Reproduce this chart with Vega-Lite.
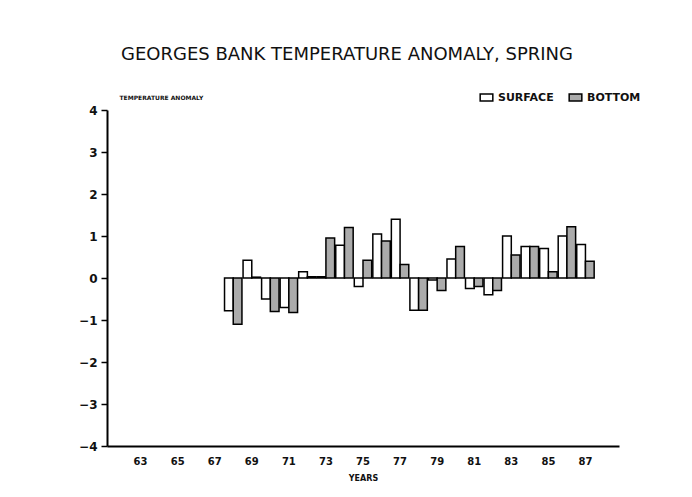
{
  "$schema": "https://vega.github.io/schema/vega-lite/v6.json",
  "width": 512,
  "height": 336,
  "autosize": {"type": "none"},
  "padding": {"left": 107, "top": 110, "right": 73, "bottom": 51},
  "background": "white",
  "title": {
    "text": "GEORGES BANK TEMPERATURE ANOMALY, SPRING",
    "font": "DejaVu Sans",
    "fontSize": 18,
    "fontWeight": "normal",
    "color": "#111111",
    "anchor": "middle",
    "frame": "group",
    "offset": 26,
    "dx": -16
  },
  "data": {
    "values": [
      {"year": 68, "series": "SURFACE", "anomaly": -0.78}, {"year": 68, "series": "BOTTOM", "anomaly": -1.1},
      {"year": 69, "series": "SURFACE", "anomaly": 0.42}, {"year": 69, "series": "BOTTOM", "anomaly": 0.02},
      {"year": 70, "series": "SURFACE", "anomaly": -0.5}, {"year": 70, "series": "BOTTOM", "anomaly": -0.8},
      {"year": 71, "series": "SURFACE", "anomaly": -0.7}, {"year": 71, "series": "BOTTOM", "anomaly": -0.82},
      {"year": 72, "series": "SURFACE", "anomaly": 0.15}, {"year": 72, "series": "BOTTOM", "anomaly": 0.03},
      {"year": 73, "series": "SURFACE", "anomaly": 0.03}, {"year": 73, "series": "BOTTOM", "anomaly": 0.95},
      {"year": 74, "series": "SURFACE", "anomaly": 0.78}, {"year": 74, "series": "BOTTOM", "anomaly": 1.2},
      {"year": 75, "series": "SURFACE", "anomaly": -0.2}, {"year": 75, "series": "BOTTOM", "anomaly": 0.42},
      {"year": 76, "series": "SURFACE", "anomaly": 1.05}, {"year": 76, "series": "BOTTOM", "anomaly": 0.88},
      {"year": 77, "series": "SURFACE", "anomaly": 1.4}, {"year": 77, "series": "BOTTOM", "anomaly": 0.32},
      {"year": 78, "series": "SURFACE", "anomaly": -0.77}, {"year": 78, "series": "BOTTOM", "anomaly": -0.77},
      {"year": 79, "series": "SURFACE", "anomaly": -0.05}, {"year": 79, "series": "BOTTOM", "anomaly": -0.3},
      {"year": 80, "series": "SURFACE", "anomaly": 0.45}, {"year": 80, "series": "BOTTOM", "anomaly": 0.75},
      {"year": 81, "series": "SURFACE", "anomaly": -0.25}, {"year": 81, "series": "BOTTOM", "anomaly": -0.2},
      {"year": 82, "series": "SURFACE", "anomaly": -0.4}, {"year": 82, "series": "BOTTOM", "anomaly": -0.3},
      {"year": 83, "series": "SURFACE", "anomaly": 1.0}, {"year": 83, "series": "BOTTOM", "anomaly": 0.55},
      {"year": 84, "series": "SURFACE", "anomaly": 0.75}, {"year": 84, "series": "BOTTOM", "anomaly": 0.75},
      {"year": 85, "series": "SURFACE", "anomaly": 0.7}, {"year": 85, "series": "BOTTOM", "anomaly": 0.15},
      {"year": 86, "series": "SURFACE", "anomaly": 1.0}, {"year": 86, "series": "BOTTOM", "anomaly": 1.22},
      {"year": 87, "series": "SURFACE", "anomaly": 0.8}, {"year": 87, "series": "BOTTOM", "anomaly": 0.4}
    ]
  },
  "mark": {"type": "bar", "stroke": "black", "strokeWidth": 1.5},
  "encoding": {
    "x": {
      "field": "year",
      "type": "ordinal",
      "scale": {
        "domain": [62, 63, 64, 65, 66, 67, 68, 69, 70, 71, 72, 73, 74, 75, 76, 77, 78, 79, 80, 81, 82, 83, 84, 85, 86, 87, 88],
        "paddingInner": 0.06,
        "paddingOuter": 0.34
      },
      "axis": {
        "values": [63, 65, 67, 69, 71, 73, 75, 77, 79, 81, 83, 85, 87],
        "labelAngle": 0,
        "ticks": false,
        "labelFont": "DejaVu Sans",
        "labelFontSize": 10,
        "labelFontWeight": "bold",
        "labelColor": "#111111",
        "labelPadding": 10,
        "domainColor": "black",
        "domainWidth": 2,
        "title": "YEARS",
        "titleFont": "DejaVu Sans",
        "titleFontSize": 8,
        "titleFontWeight": "bold",
        "titleColor": "#111111",
        "titlePadding": 8
      }
    },
    "xOffset": {"field": "series", "type": "nominal", "scale": {"domain": ["SURFACE", "BOTTOM"]}},
    "y": {
      "field": "anomaly",
      "type": "quantitative",
      "scale": {"domain": [-4, 4], "nice": false},
      "axis": {
        "values": [-4, -3, -2, -1, 0, 1, 2, 3, 4],
        "grid": false,
        "tickSize": 6,
        "tickWidth": 1.5,
        "tickColor": "black",
        "domainColor": "black",
        "domainWidth": 2,
        "labelFont": "DejaVu Sans",
        "labelFontSize": 12,
        "labelFontWeight": "bold",
        "labelColor": "#111111",
        "labelPadding": 4,
        "title": "TEMPERATURE ANOMALY",
        "titleFont": "DejaVu Sans",
        "titleFontSize": 6,
        "titleFontWeight": "bold",
        "titleColor": "#111111",
        "titleAngle": 0,
        "titleAlign": "left",
        "titleBaseline": "alphabetic",
        "titleX": 12,
        "titleY": -11
      }
    },
    "color": {
      "field": "series",
      "type": "nominal",
      "scale": {"domain": ["SURFACE", "BOTTOM"], "range": ["white", "#ababab"]},
      "legend": {
        "orient": "none",
        "legendX": 372,
        "legendY": -20,
        "direction": "horizontal",
        "title": null,
        "symbolType": "M-1,-0.55H1V0.55H-1Z",
        "symbolSize": 160,
        "symbolStrokeColor": "black",
        "symbolStrokeWidth": 1.5,
        "labelFont": "DejaVu Sans",
        "labelFontSize": 11,
        "labelFontWeight": "bold",
        "labelColor": "#111111",
        "columnPadding": 12
      }
    }
  },
  "config": {"view": {"stroke": null}}
}
